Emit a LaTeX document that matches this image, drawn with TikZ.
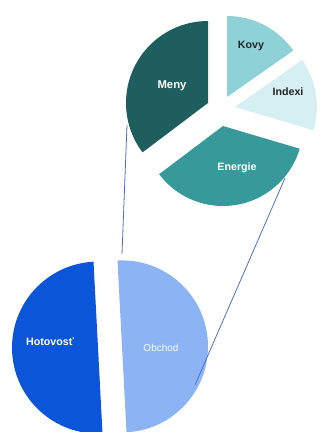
\documentclass[tikz,border=0pt]{standalone}
\usepackage{fontspec}
\setmainfont{Liberation Sans}
\definecolor{meny}{HTML}{1F5E5E}
\definecolor{kovy}{HTML}{8ED2D8}
\definecolor{indexi}{HTML}{D6EFF3}
\definecolor{energie}{HTML}{37999A}
\definecolor{hotov}{HTML}{0B55D8}
\definecolor{obchod}{HTML}{8CB4F5}
\definecolor{conn}{HTML}{4A6FD0}
\begin{document}
\begin{tikzpicture}[x=0.75pt,y=0.75pt,
  lblw/.style={text=white,font=\fontsize{8}{9}\selectfont\bfseries},
  lbld/.style={text=black!85,font=\fontsize{8}{9}\selectfont\bfseries},
  connector/.style={draw=conn,line width=0.6pt}]
\useasboundingbox (0,0) rectangle (320,-432);
\clip (0,0) rectangle (320,-432);
% bottom pie
\fill[hotov] (98,-347.6) -- ++(93:86) arc[start angle=93,end angle=273,radius=86] -- cycle;
\fill[obchod] (122,-346.4) -- ++(-87:86) arc[start angle=-87,end angle=93,radius=86] -- cycle;
% top pie
\fill[meny] (208,-103) -- ++(90:82) arc[start angle=90,end angle=217,radius=82] -- cycle;
\fill[kovy] (227,-97) -- ++(35:81) arc[start angle=35,end angle=90,radius=81] -- cycle;
\fill[indexi] (235,-107) -- ++(-16.5:82) arc[start angle=-16.5,end angle=35,radius=82] -- cycle;
\fill[energie] (223,-126) -- ++(217:80) arc[start angle=217,end angle=343.5,radius=80] -- cycle;
% labels
\node[lblw,font=\fontsize{8.5}{10}\selectfont\bfseries] (tMeny) at (172,-86) {Meny};
\node[lbld] (tKovy) at (251,-46) {Kovy};
\node[lbld] (tIndexi) at (288,-92) {Indexi};
\node[lblw] (tEnergie) at (237,-168) {Energie};
\node[lblw] (tHot) at (50,-342) {Hotovosť};
\node[text=white!92!obchod,font=\fontsize{7.5}{9}\selectfont] (tObch) at (161,-348) {Obchod};
% connectors
\coordinate (a1) at (127,-125);
\coordinate (a2) at (122,-254);
\coordinate (b1) at (285,-178);
\coordinate (b2) at (195,-385);
\draw[connector] (a1) -- (a2);
\draw[connector] (b1) -- (b2);
\end{tikzpicture}
\end{document}
